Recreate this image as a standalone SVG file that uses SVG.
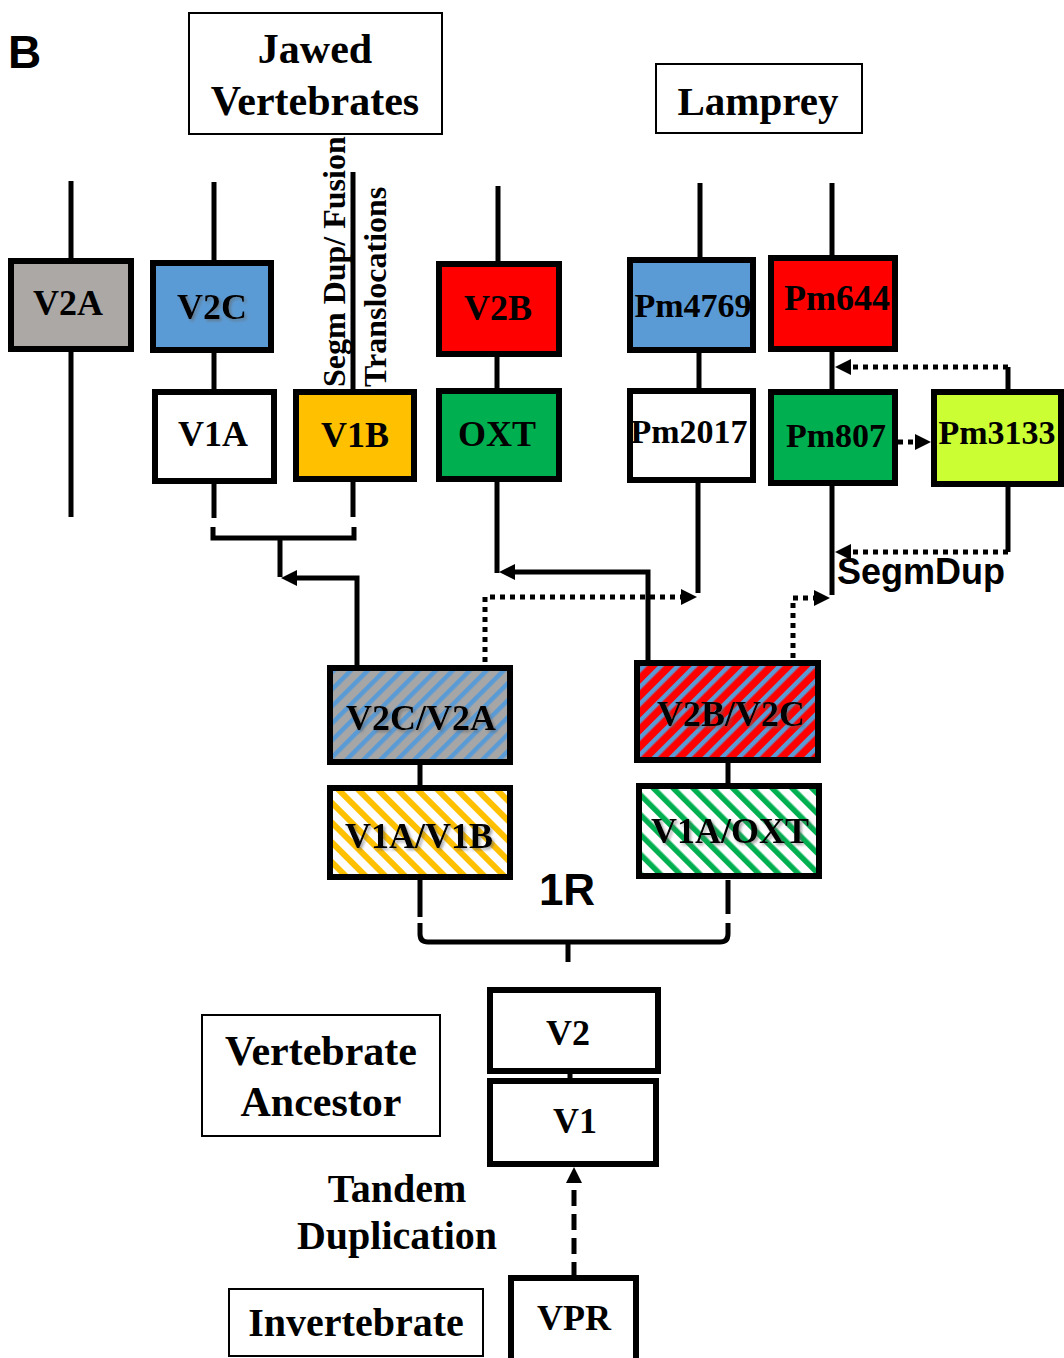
<svg xmlns="http://www.w3.org/2000/svg" width="1064" height="1358" viewBox="0 0 1064 1358">
<style>
.node{stroke:#000;stroke-width:6}
.lbl{fill:#fff;stroke:#000;stroke-width:2}
.t{font-family:"Liberation Serif","Times New Roman",serif;font-weight:bold;text-anchor:middle;fill:#000}
.s{font-family:"Liberation Sans",Arial,sans-serif;font-weight:bold;fill:#000}
.ln{fill:none;stroke:#000;stroke-width:5}
.dot{fill:none;stroke:#000;stroke-width:5;stroke-dasharray:5 5}
.dash{fill:none;stroke:#000;stroke-width:5;stroke-dasharray:16 8}
.sh{filter:url(#shadow)}
</style>
<defs>
<filter id="shadow" x="-10%" y="-30%" width="130%" height="170%">
<feDropShadow dx="2" dy="2" stdDeviation="1.5" flood-color="#666" flood-opacity="0.6"/>
</filter>
<pattern id="hGB" width="12" height="12" patternUnits="userSpaceOnUse" patternTransform="rotate(45)">
<rect width="12" height="12" fill="#A6A6A6"/><rect width="4.5" height="12" fill="#5B9BD5"/>
</pattern>
<pattern id="hRB" width="12" height="12" patternUnits="userSpaceOnUse" patternTransform="rotate(45)">
<rect width="12" height="12" fill="#FF0000"/><rect width="4.5" height="12" fill="#5B9BD5"/>
</pattern>
<pattern id="hWY" width="14" height="14" patternUnits="userSpaceOnUse" patternTransform="rotate(-45)">
<rect width="14" height="14" fill="#fff"/><rect width="6" height="14" fill="#FFC000"/>
</pattern>
<pattern id="hWG" width="14" height="14" patternUnits="userSpaceOnUse" patternTransform="rotate(-45)">
<rect width="14" height="14" fill="#fff"/><rect width="5.5" height="14" fill="#00B050"/>
</pattern>
<marker id="ah" markerWidth="16" markerHeight="16" refX="6" refY="8" orient="auto" markerUnits="userSpaceOnUse">
<path d="M0,0 L16,8 L0,16 Z" fill="#000"/>
</marker>
</defs>

<text class="s" x="8" y="68" font-size="46">B</text>

<g id="connectors">
<line class="ln" x1="71" y1="181" x2="71" y2="517"/>
<line class="ln" x1="214" y1="182" x2="214" y2="263"/>
<line class="ln" x1="214" y1="350" x2="214" y2="392"/>
<line class="ln" x1="214" y1="481" x2="214" y2="518"/>
<line class="ln" x1="353" y1="172" x2="353" y2="392"/>
<line class="ln" x1="353" y1="479" x2="353" y2="517"/>
<path class="ln" d="M213,527 V538 H354 V527"/>
<line class="ln" x1="280" y1="538" x2="280" y2="577"/>
<path class="ln" d="M357,668 V578 H291" marker-end="url(#ah)"/>
<line class="ln" x1="498" y1="186" x2="498" y2="264"/>
<line class="ln" x1="497" y1="354" x2="497" y2="391"/>
<line class="ln" x1="497" y1="479" x2="497" y2="573"/>
<path class="ln" d="M648,663 V572 H509" marker-end="url(#ah)"/>
<line class="ln" x1="700" y1="183" x2="700" y2="260"/>
<line class="ln" x1="699" y1="350" x2="699" y2="391"/>
<line class="ln" x1="698" y1="480" x2="698" y2="593"/>
<line class="ln" x1="832" y1="183" x2="832" y2="258"/>
<line class="ln" x1="832" y1="349" x2="832" y2="392"/>
<line class="ln" x1="832" y1="483" x2="832" y2="595"/>
<line class="ln" x1="1008" y1="392" x2="1008" y2="367"/>
<path class="dot" d="M1008,367 H845" marker-end="url(#ah)"/>
<path class="dot" d="M898,442 H921" marker-end="url(#ah)"/>
<line class="ln" x1="1008" y1="484" x2="1008" y2="552"/>
<path class="dot" d="M1008,552 H845" marker-end="url(#ah)"/>
<path class="dot" d="M485,662 V597 H687" marker-end="url(#ah)"/>
<path class="dot" d="M793,658 V598 H820" marker-end="url(#ah)"/>
<line class="ln" x1="420" y1="765" x2="420" y2="788"/>
<line class="ln" x1="728" y1="763" x2="728" y2="786"/>
<path class="ln" d="M420,880 V917 M420,923 V934 Q420,942 428,942 H720 Q728,942 728,934 V923 M728,880 V914"/>
<path class="ln" d="M568,942 V962"/>
<line class="ln" x1="570" y1="1071" x2="570" y2="1081" stroke-width="3"/>
<path class="dash" d="M574,1278 V1177" marker-end="url(#ah)"/>
</g>

<g id="label-jawed"><rect class="lbl" x="189" y="13" width="253" height="121"/>
<text class="t" x="315" y="63" font-size="42">Jawed</text>
<text class="t" x="315" y="115" font-size="42">Vertebrates</text></g>
<g id="label-lamprey"><rect class="lbl" x="656" y="64" width="206" height="69"/>
<text class="t" x="758" y="115" font-size="41">Lamprey</text></g>
<g id="label-segm"><text class="t" transform="translate(345,387) rotate(-90)" style="text-anchor:start" font-size="32">Segm Dup/ Fusion</text>
<text class="t" transform="translate(386,387) rotate(-90)" style="text-anchor:start" font-size="32">Translocations</text></g>
<g id="label-segmdup"><text class="s" x="837" y="584" font-size="36">SegmDup</text></g>
<g id="label-1R"><text class="s" x="567" y="905" font-size="44" text-anchor="middle">1R</text></g>
<g id="label-ancestor"><rect class="lbl" x="202" y="1015" width="238" height="121"/>
<text class="t" x="321" y="1065" font-size="42">Vertebrate</text>
<text class="t" x="321" y="1116" font-size="42">Ancestor</text></g>
<g id="label-tandem"><text class="t" x="397" y="1202" font-size="40">Tandem</text>
<text class="t" x="397" y="1249" font-size="40">Duplication</text></g>
<g id="label-invertebrate"><rect class="lbl" x="229" y="1289" width="254" height="67"/>
<text class="t" x="356" y="1336" font-size="40">Invertebrate</text></g>

<g id="V2A"><rect class="node" x="11" y="261" width="120" height="88" fill="#ABA8A6"/><text class="t" x="68" y="315" font-size="36">V2A</text></g>
<g id="V2C"><rect class="node" x="153" y="263" width="118" height="87" fill="#5B9BD5"/><text class="t sh" x="212" y="319" font-size="36">V2C</text></g>
<g id="V1A"><rect class="node" x="155" y="392" width="119" height="89" fill="#fff"/><text class="t" x="213" y="446" font-size="36">V1A</text></g>
<g id="V1B"><rect class="node" x="296" y="392" width="118" height="87" fill="#FFC000"/><text class="t" x="355" y="447" font-size="36">V1B</text></g>
<g id="V2B"><rect class="node" x="439" y="264" width="120" height="90" fill="#FF0000"/><text class="t" x="498" y="320" font-size="36">V2B</text></g>
<g id="OXT"><rect class="node" x="439" y="391" width="120" height="88" fill="#00B050"/><text class="t" x="497" y="446" font-size="36">OXT</text></g>
<g id="Pm4769"><rect class="node" x="630" y="260" width="123" height="90" fill="#5B9BD5"/><text class="t" x="693" y="317" font-size="34">Pm4769</text></g>
<g id="Pm644"><rect class="node" x="771" y="258" width="124" height="91" fill="#FF0000"/><text class="t" x="837" y="310" font-size="36">Pm644</text></g>
<g id="Pm2017"><rect class="node" x="630" y="391" width="123" height="89" fill="#fff"/><text class="t" x="689" y="443" font-size="34">Pm2017</text></g>
<g id="Pm807"><rect class="node" x="771" y="392" width="124" height="91" fill="#00B050"/><text class="t" x="836" y="447" font-size="34">Pm807</text></g>
<g id="Pm3133"><rect class="node" x="934" y="392" width="127" height="92" fill="#CCFF33"/><text class="t" x="997" y="444" font-size="34">Pm3133</text></g>
<g id="V2C-V2A"><rect class="node" x="330" y="668" width="180" height="94" fill="url(#hGB)"/><text class="t sh" x="421" y="730" font-size="36">V2C/V2A</text></g>
<g id="V1A-V1B"><rect class="node" x="330" y="788" width="180" height="89" fill="url(#hWY)"/><text class="t sh" x="419" y="848" font-size="36">V1A/V1B</text></g>
<g id="V2B-V2C"><rect class="node" x="637" y="663" width="181" height="97" fill="url(#hRB)"/><text class="t sh" x="731" y="726" font-size="36">V2B/V2C</text></g>
<g id="V1A-OXT"><rect class="node" x="639" y="786" width="180" height="90" fill="url(#hWG)"/><text class="t sh" x="730" y="843" font-size="36">V1A/OXT</text></g>
<g id="V2"><rect class="node" x="490" y="990" width="168" height="81" fill="#fff"/><text class="t" x="568" y="1045" font-size="36">V2</text></g>
<g id="V1"><rect class="node" x="490" y="1081" width="166" height="83" fill="#fff"/><text class="t" x="575" y="1133" font-size="36">V1</text></g>
<g id="VPR"><rect class="node" x="511" y="1278" width="125" height="90" fill="#fff"/><text class="t" x="574" y="1330" font-size="36">VPR</text></g>
</svg>
